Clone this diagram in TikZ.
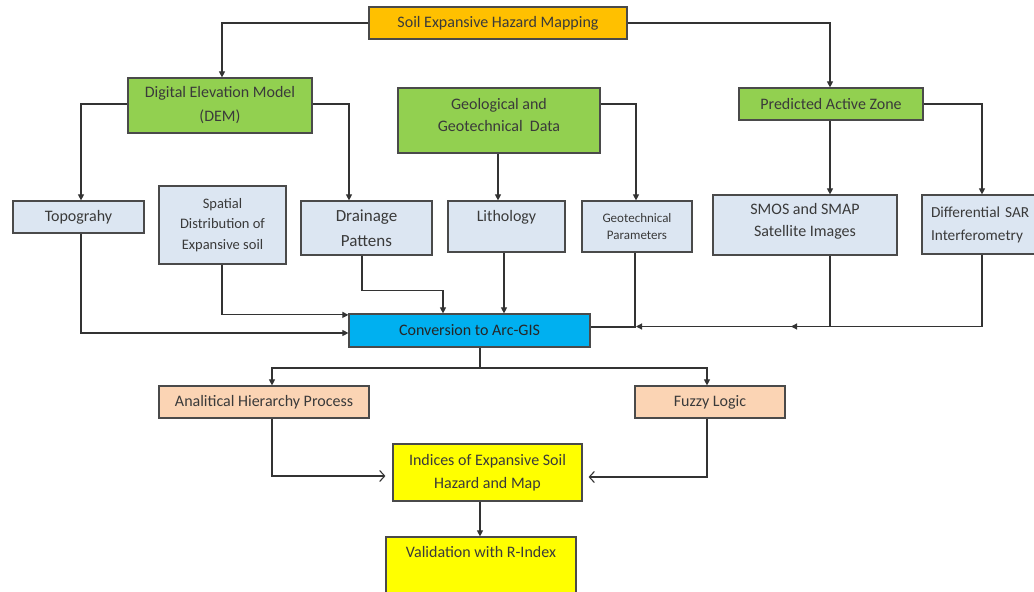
\documentclass[tikz,border=0pt]{standalone}
\usepackage{fontspec}
\setmainfont{Carlito}
\usetikzlibrary{arrows.meta}
\definecolor{orangeF}{HTML}{FFC000}
\definecolor{greenF}{HTML}{92D050}
\definecolor{lblueF}{HTML}{DCE6F2}
\definecolor{blueF}{HTML}{00B0F0}
\definecolor{peachF}{HTML}{FBD4B4}
\definecolor{yellowF}{HTML}{FFFF00}
\definecolor{edgeC}{HTML}{4A4A4A}
\definecolor{txtC}{HTML}{3A3A3A}
\definecolor{lineC}{HTML}{333333}
\begin{document}
\begin{tikzpicture}[x=1pt,y=-1pt,
 box/.style={draw=edgeC, line width=1.2pt, inner sep=0pt, align=center, text=txtC, font=\fontsize{16}{24}\selectfont},
 lbl/.style={align=center, text=txtC, font=\fontsize{16}{22.5}\selectfont},
 conn/.style={draw=lineC, line width=1.1pt},
 arr/.style={conn, -{Triangle[length=6pt,width=6pt]}},
 oarr/.style={conn, -{Straight Barb[length=5pt,width=11pt]}},
]
\useasboundingbox (0,0) rectangle (1034,592);
\clip (0,0) rectangle (1034,592);
\fill[white] (0,0) rectangle (1034,592);

\node[box, fill=orangeF, minimum width=258pt, minimum height=32pt] (top) at (498,23) {Soil Expansive Hazard Mapping};
\node[box, fill=greenF, minimum width=184pt, minimum height=55pt] (dem) at (220,105.5) {Digital Elevation Model\\(DEM)};
\node[box, fill=greenF, minimum width=202pt, minimum height=65pt, label={[lbl, yshift=5.5pt]center:Geological and\\Geotechnical\ \ Data}] (geo) at (499,120.5) {};
\node[box, fill=greenF, minimum width=184pt, minimum height=32pt] (paz) at (831,104) {Predicted Active Zone};

\node[box, fill=lblueF, minimum width=131pt, minimum height=32pt] (topo) at (78.5,217) {Topograhy};
\node[box, fill=lblueF, minimum width=127pt, minimum height=78pt, font=\fontsize{14.5}{20.5}\selectfont] (spat) at (222.5,225) {Spatial\\Distribution of\\Expansive soil};
\node[box, fill=lblueF, minimum width=131pt, minimum height=54pt, font=\fontsize{17}{25}\selectfont] (drain) at (366.5,228) {Drainage\\Pattens};
\node[box, fill=lblueF, minimum width=117pt, minimum height=51pt, label={[lbl, anchor=north, yshift=-6pt]north:Lithology}] (litho) at (506.5,226.5) {};
\node[box, fill=lblueF, minimum width=110pt, minimum height=51pt, font=\fontsize{13}{17.5}\selectfont] (gpar) at (637,226.5) {Geotechnical\\Parameters};
\node[box, fill=lblueF, minimum width=184pt, minimum height=60pt, label={[lbl, yshift=3.5pt]center:SMOS and SMAP\\Satellite Images}] (smos) at (805,225) {};
\node[box, fill=lblueF, minimum width=123pt, minimum height=59pt, text width=105pt, align=left, font=\fontsize{15.3}{23}\selectfont] (dsar) at (983.5,224.5) {\mbox{Differential SAR}\\Interferometry};

\node[box, fill=blueF, minimum width=241pt, minimum height=33pt, text=black!85] (conv) at (469.5,330.5) {Conversion to Arc-GIS};
\node[box, fill=peachF, minimum width=210pt, minimum height=32pt] (ahp) at (264,402) {Analitical Hierarchy Process};
\node[box, fill=peachF, minimum width=150pt, minimum height=32pt] (fuzzy) at (710,402) {Fuzzy Logic};
\node[box, fill=yellowF, minimum width=189pt, minimum height=57pt, font=\fontsize{16}{23}\selectfont] (ind) at (487.5,472.5) {Indices of Expansive Soil\\Hazard and Map};
\node[box, fill=yellowF, minimum width=190pt, minimum height=63pt, label={[lbl, anchor=north, yshift=-6.5pt]north:Validation with R-Index}] (val) at (481,568.5) {};

% top level
\draw[arr] (top.west) -| ([xshift=2pt]dem.north);
\draw[arr] (top.east) -| ([xshift=-1pt]paz.north);
\draw[arr] ([yshift=1.5pt]dem.west) -| ([xshift=2.5pt]topo.north);
\draw[arr] ([yshift=1.5pt]dem.east) -| ([xshift=-17.5pt]drain.north);
\draw[arr] ([xshift=-1pt]geo.south) -- ([xshift=-1pt]geo.south |- litho.north);
\draw[arr] ([yshift=16.5pt]geo.east) -| ([xshift=-1pt]gpar.north);
\draw[arr] ([xshift=-1pt]paz.south) -- ([xshift=-1pt]paz.south |- smos.north);
\draw[arr] (paz.east) -| ([xshift=-1.5pt]dsar.north);

% into conversion
\draw[arr] ([xshift=2.5pt]topo.south) |- ([yshift=-2.5pt]conv.west);
\draw[arr] ([xshift=-0.5pt]spat.south) |- ([yshift=-1.5pt]conv.north west);
\draw[arr] ([xshift=-4.5pt]drain.south) -- ++(0,35) -| ([xshift=-26.5pt]conv.north);
\draw[arr] ([xshift=-2.5pt]litho.south) -- ([xshift=-2.5pt]litho.south |- conv.north);
\draw[conn] ([xshift=-2pt]gpar.south) |- ([yshift=3.5pt]conv.east);
\coordinate (j1) at (636,326.5);
\coordinate (j2) at (791,326.5);
\draw[arr] ([xshift=25pt]smos.south) |- (j1);
\draw[arr] ([xshift=-1.5pt]dsar.south) |- (j2);

% out of conversion
\coordinate (split) at (480,368);
\draw[conn] ([xshift=10.5pt]conv.south) -- (split);
\draw[arr] (split) -| ([xshift=8pt]ahp.north);
\draw[arr] (split) -| ([xshift=-3pt]fuzzy.north);
\draw[oarr, shorten >=7pt] ([xshift=8pt]ahp.south) |- ([yshift=-3.5pt]ind.west);
\draw[oarr, shorten >=6pt] ([xshift=-3pt]fuzzy.south) |- ([yshift=-4.5pt]ind.east);
\draw[arr] ([xshift=-7.5pt]ind.south) -- ([xshift=-7.5pt]ind.south |- val.north);
\end{tikzpicture}
\end{document}
